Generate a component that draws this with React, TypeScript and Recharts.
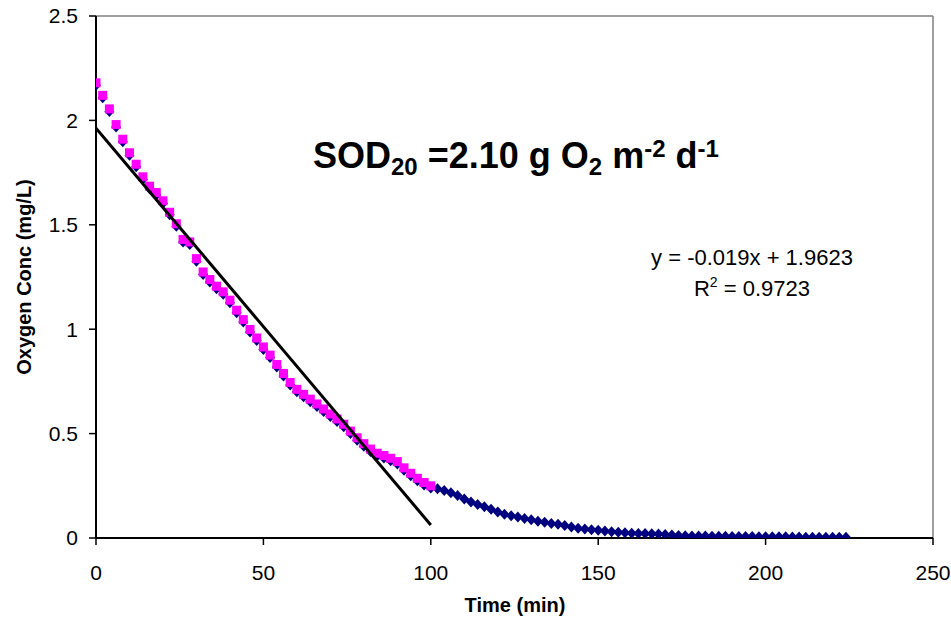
import React from "react";
import {
  ScatterChart,
  Scatter,
  XAxis,
  YAxis,
  ReferenceLine,
  Customized,
} from "recharts";

const FONT = '"Liberation Sans", Arial, Helvetica, sans-serif';

// Time (min) of the first 100 minutes (magenta series)
const magentaTime = [
  0, 2, 4, 6, 8, 10, 12, 14, 16, 18, 20, 22, 24, 26, 28, 30, 32, 34, 36, 38,
  40, 42, 44, 46, 48, 50, 52, 54, 56, 58, 60, 62, 64, 66, 68, 70, 72, 74, 76,
  78, 80, 82, 84, 86, 88, 90, 92, 94, 96, 98, 100,
];
const magentaConc = [
  2.18, 2.12, 2.055, 1.98, 1.91, 1.845, 1.79, 1.73, 1.685, 1.655, 1.615, 1.56,
  1.505, 1.43, 1.418, 1.338, 1.274, 1.238, 1.206, 1.179, 1.139, 1.091, 1.046,
  0.999, 0.958, 0.915, 0.876, 0.831, 0.788, 0.745, 0.712, 0.688, 0.665, 0.642,
  0.618, 0.594, 0.57, 0.545, 0.512, 0.48, 0.452, 0.426, 0.406, 0.395, 0.382,
  0.366, 0.336, 0.31, 0.286, 0.266, 0.25,
];

// Full record (navy series)
const navyTime = [
  0, 2, 4, 6, 8, 10, 12, 14, 16, 18, 20, 22, 24, 26, 28, 30, 32, 34, 36, 38,
  40, 42, 44, 46, 48, 50, 52, 54, 56, 58, 60, 62, 64, 66, 68, 70, 72, 74, 76,
  78, 80, 82, 84, 86, 88, 90, 92, 94, 96, 98, 100, 102, 104, 106, 108, 110,
  112, 114, 116, 118, 120, 122, 124, 126, 128, 130, 132, 134, 136, 138, 140,
  142, 144, 146, 148, 150, 152, 154, 156, 158, 160, 162, 164, 166, 168, 170,
  172, 174, 176, 178, 180, 182, 184, 186, 188, 190, 192, 194, 196, 198, 200,
  202, 204, 206, 208, 210, 212, 214, 216, 218, 220, 222, 224,
];
const navyConc = [
  2.168, 2.108, 2.043, 1.968, 1.898, 1.833, 1.778, 1.718, 1.673, 1.643, 1.603,
  1.548, 1.493, 1.418, 1.406, 1.326, 1.262, 1.226, 1.194, 1.167, 1.127, 1.079,
  1.034, 0.987, 0.946, 0.903, 0.864, 0.819, 0.776, 0.733, 0.7, 0.676, 0.653,
  0.63, 0.606, 0.582, 0.558, 0.533, 0.5, 0.468, 0.44, 0.414, 0.394, 0.383,
  0.37, 0.354, 0.324, 0.298, 0.274, 0.254, 0.24, 0.236, 0.228, 0.217, 0.203,
  0.187, 0.173, 0.161, 0.15, 0.138, 0.125, 0.114, 0.106, 0.1, 0.093, 0.087,
  0.08, 0.075, 0.07, 0.066, 0.06, 0.053, 0.047, 0.043, 0.04, 0.037, 0.034,
  0.03, 0.027, 0.025, 0.023, 0.022, 0.021, 0.02, 0.019, 0.017, 0.014, 0.012,
  0.011, 0.01, 0.009, 0.009, 0.008, 0.008, 0.008, 0.007, 0.007, 0.007, 0.007,
  0.006, 0.006, 0.006, 0.006, 0.006, 0.005, 0.005, 0.004, 0.003, 0.003, 0.003,
  0.003, 0.003, 0.003,
];

// Linear trend line y = -0.019x + 1.9623 over 0..100 min
const trendTime = [0, 100];
const trendConc = [1.9623, 0.0623];

const xTicks = [0, 50, 100, 150, 200, 250];
const yTicks = [0, 0.5, 1, 1.5, 2, 2.5];

const navyData = navyTime.map((t, i) => ({ t, c: navyConc[i] }));
const magentaData = magentaTime.map((t, i) => ({ t, c: magentaConc[i] }));
const trendData = trendTime.map((t, i) => ({ t, c: trendConc[i] }));

const Diamond = (props: any) => {
  const { cx, cy } = props;
  if (cx == null || cy == null) return <g />;
  return (
    <polygon
      points={`${cx},${cy - 5.5} ${cx + 5},${cy} ${cx},${cy + 5.5} ${cx - 5},${cy}`}
      fill="#000080"
    />
  );
};

const Square = (props: any) => {
  const { cx, cy } = props;
  if (cx == null || cy == null) return <g />;
  return <rect x={cx - 4.5} y={cy - 4.5} width={9} height={9} fill="#FF00FF" />;
};

const Nothing = () => <g />;

const Annotations = () => (
  <g style={{ fontFamily: FONT, whiteSpace: "pre" }}>
    <text x={313} y={168} fontSize={36} fontWeight="bold" fill="#000">
      <tspan>SOD</tspan>
      <tspan fontSize={24} dy={7}>20</tspan>
      <tspan dy={-7}>{" =2.10 g O"}</tspan>
      <tspan fontSize={24} dy={7}>2</tspan>
      <tspan dy={-7}>{" m"}</tspan>
      <tspan fontSize={24} dy={-11}>-2</tspan>
      <tspan dy={11}>{" d"}</tspan>
      <tspan fontSize={24} dy={-11}>-1</tspan>
    </text>
    <text x={752} y={265} fontSize={22} textAnchor="middle" fill="#000">
      y = -0.019x + 1.9623
    </text>
    <text x={752} y={296} fontSize={22} textAnchor="middle" fill="#000">
      <tspan>R</tspan>
      <tspan fontSize={14} dy={-9}>2</tspan>
      <tspan dy={9}>{" = 0.9723"}</tspan>
    </text>
    <text
      x={515}
      y={612}
      fontSize={20}
      fontWeight="bold"
      textAnchor="middle"
      fill="#000"
    >
      Time (min)
    </text>
    <text
      x={31}
      y={277}
      fontSize={20}
      fontWeight="bold"
      textAnchor="middle"
      fill="#000"
      transform="rotate(-90 31 277)"
    >
      Oxygen Conc (mg/L)
    </text>
  </g>
);

export default function App() {
  return (
    <div style={{ position: "absolute", left: 0, top: 0, background: "#fff" }}>
      <ScatterChart
        width={951}
        height={625}
        margin={{ top: 16, right: 18, bottom: 57, left: 30 }}
      >
        <XAxis
          type="number"
          dataKey="t"
          domain={[0, 250]}
          ticks={xTicks}
          interval={0}
          allowDataOverflow
          height={30}
          tickSize={7}
          tickMargin={20}
          axisLine={{ stroke: "#000", strokeWidth: 2 }}
          tickLine={{ stroke: "#000", strokeWidth: 1.5 }}
          tick={{ fill: "#000", fontSize: 21, fontFamily: FONT }}
        />
        <YAxis
          type="number"
          dataKey="c"
          domain={[0, 2.5]}
          ticks={yTicks}
          interval={0}
          allowDataOverflow
          width={66}
          tickSize={7}
          tickMargin={11}
          axisLine={{ stroke: "#000", strokeWidth: 2 }}
          tickLine={{ stroke: "#000", strokeWidth: 1.5 }}
          tick={{ fill: "#000", fontSize: 21, fontFamily: FONT }}
        />
        <ReferenceLine y={2.5} stroke="#808080" strokeWidth={1.5} />
        <ReferenceLine x={250} stroke="#808080" strokeWidth={1.5} />
        <Scatter
          data={navyData}
          shape={Diamond}
          isAnimationActive={false}
        />
        <Scatter
          data={magentaData}
          shape={Square}
          isAnimationActive={false}
        />
        <Scatter
          data={trendData}
          line={{ stroke: "#000", strokeWidth: 3 }}
          lineType="joint"
          shape={Nothing}
          isAnimationActive={false}
        />
        <Customized component={Annotations} />
      </ScatterChart>
    </div>
  );
}
